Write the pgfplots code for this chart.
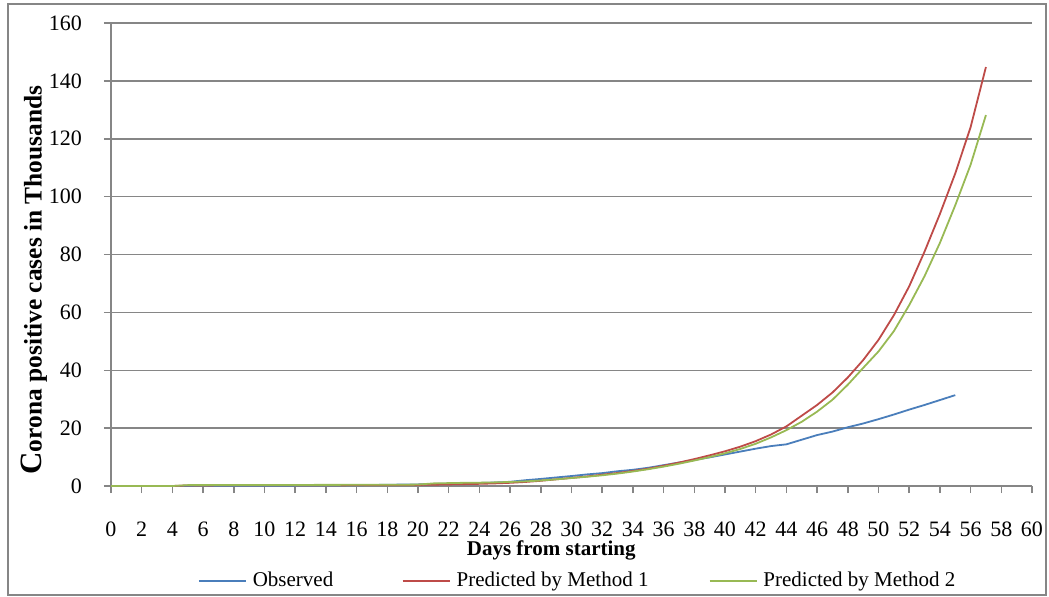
\documentclass[border=0pt]{standalone}
\usepackage{pgfplots}
\usepackage{pgfplotstable}
\pgfplotsset{compat=1.18}
\usepackage{fontspec}
\setmainfont{Liberation Serif}
\definecolor{obs}{RGB}{74,126,187}
\definecolor{mone}{RGB}{190,75,72}
\definecolor{mtwo}{RGB}{152,185,84}
\definecolor{gridc}{RGB}{134,134,134}

\pgfplotstableread{
d v
0 0
1 0
2 0
3 0
4 0
5 0.05
6 0.06
7 0.07
8 0.08
9 0.09
10 0.11
11 0.12
12 0.14
13 0.16
14 0.19
15 0.23
16 0.28
17 0.35
18 0.42
19 0.50
20 0.55
21 0.70
22 0.80
23 0.95
24 1.05
25 1.20
26 1.45
27 2.00
28 2.45
29 2.95
30 3.45
31 4.00
32 4.45
33 5.10
34 5.60
35 6.30
36 7.20
37 8.10
38 9.00
39 9.90
40 10.90
41 11.90
42 12.90
43 13.80
44 14.40
45 16.00
46 17.60
47 18.80
48 20.30
49 21.60
50 23.10
51 24.70
52 26.40
53 28.00
54 29.70
55 31.40
}\observed

\pgfplotstableread{
d v
0 0
1 0
2 0
3 0
4 0
5 0.20
6 0.22
7 0.23
8 0.24
9 0.25
10 0.26
11 0.27
12 0.28
13 0.29
14 0.30
15 0.31
16 0.32
17 0.33
18 0.34
19 0.35
20 0.38
21 0.45
22 0.55
23 0.65
24 0.75
25 0.90
26 1.10
27 1.40
28 1.80
29 2.30
30 2.80
31 3.30
32 3.90
33 4.50
34 5.20
35 6.00
36 7.00
37 8.10
38 9.30
39 10.60
40 12.00
41 13.60
42 15.50
43 17.80
44 20.60
45 24.30
46 28.00
47 32.30
48 37.50
49 43.50
50 50.50
51 59.00
52 69.00
53 81.00
54 94.00
55 108.00
56 124.00
57 144.80
}\methodone

\pgfplotstableread{
d v
0 0
1 0
2 0
3 0
4 0
5 0.30
6 0.31
7 0.32
8 0.33
9 0.34
10 0.35
11 0.36
12 0.37
13 0.38
14 0.39
15 0.40
16 0.41
17 0.42
18 0.43
19 0.44
20 0.50
21 0.90
22 1.00
23 1.10
24 1.15
25 1.25
26 1.40
27 1.60
28 1.90
29 2.30
30 2.75
31 3.20
32 3.70
33 4.30
34 5.00
35 5.80
36 6.70
37 7.70
38 8.80
39 10.00
40 11.30
41 12.80
42 14.60
43 16.80
44 19.30
45 22.20
46 25.70
47 29.80
48 35.00
49 40.80
50 46.50
51 53.50
52 62.50
53 72.50
54 84.00
55 97.00
56 111.00
57 128.20
}\methodtwo

\begin{document}
\begin{tikzpicture}
\useasboundingbox (-55.5pt,-55pt) rectangle (469pt,243pt);
\draw[gridc, line width=0.9pt] (-51.5pt,-54.5pt) rectangle (467.5pt,241pt);
\begin{axis}[
  at={(0pt,0pt)}, anchor=south west,
  scale only axis, width=460.5pt, height=231.5pt,
  xmin=0, xmax=60, ymin=0, ymax=160,
  xtick={0,2,...,60}, ytick={0,20,...,160},
  axis x line*=bottom, axis y line*=left,
  axis line style={gridc, line width=0.75pt, -},
  ymajorgrids, major grid style={gridc, line width=0.75pt},
  tick align=outside, major tick length=3.5pt,
  tick style={gridc, line width=0.75pt},
  every tick label/.append style={font=\fontsize{11}{13}\selectfont, text=black},
  /pgf/number format/assume math mode=true,
  xticklabel style={yshift=-11pt},
  yticklabel style={xshift=-7.5pt},
  every axis x label/.style={at={(axis description cs:0.478,-0.140)}, anchor=center, font=\fontsize{10.5}{12}\selectfont\bfseries},
  every axis y label/.style={at={(axis description cs:-0.0836,0.445)}, rotate=90, anchor=center},
  xlabel={Days from starting},
  ylabel={{\fontsize{15.5}{15.5}\selectfont\bfseries C}{\fontsize{12.7}{14}\selectfont\bfseries orona positive cases in Thousands}},
  no markers,
  legend columns=3,
  legend cell align=left,
  legend image code/.code={\draw[#1] (0pt,0pt) -- (23.5pt,0pt);},
  legend style={at={(axis description cs:0.0945,-0.205)}, anchor=west, draw=none, fill=none,
    inner sep=0pt, outer sep=0pt,
    nodes={inner sep=0pt, font=\fontsize{10.5}{12}\selectfont},
    /tikz/every odd column/.style={column sep=3pt},
    /tikz/every even column/.style={column sep=0pt}},
]
\addplot[obs, line width=0.9pt] table[x=d,y=v] {\observed};
\addlegendentry{\makebox[74.5pt][l]{Observed}}
\addplot[mone, line width=0.9pt] table[x=d,y=v] {\methodone};
\addlegendentry{\makebox[126pt][l]{Predicted by Method 1}}
\addplot[mtwo, line width=0.9pt] table[x=d,y=v] {\methodtwo};
\addlegendentry{Predicted by Method 2}
\end{axis}
\end{tikzpicture}
\end{document}
